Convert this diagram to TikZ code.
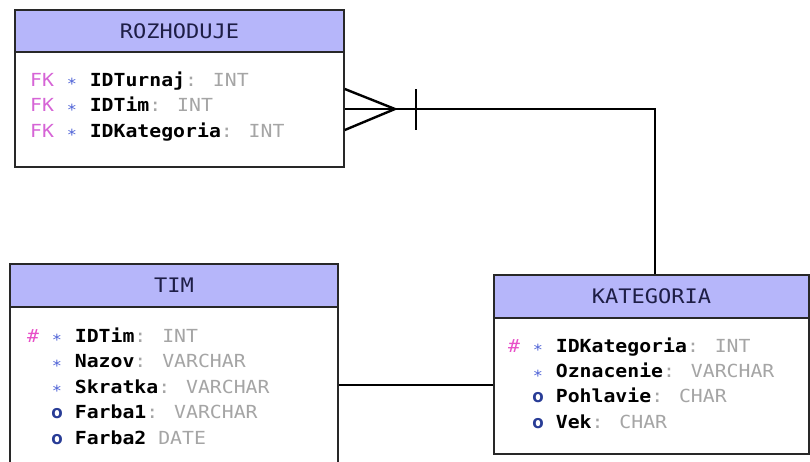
\documentclass[tikz,border=0pt]{standalone}
\usepackage{fontspec}
\newfontfamily\ermono[FakeStretch=1.1]{DejaVu Sans Mono}

\definecolor{hdrfill}{RGB}{182,182,250}
\definecolor{ttlc}{RGB}{30,30,70}
\definecolor{fkc}{RGB}{214,100,214}
\definecolor{pkc}{RGB}{232,80,200}
\definecolor{reqc}{RGB}{80,100,215}
\definecolor{optc}{RGB}{40,60,150}
\definecolor{typc}{RGB}{165,165,165}
\definecolor{edgec}{RGB}{40,40,40}

% attribute markers
\newcommand\erFK{\textcolor{fkc}{FK}}
\newcommand\erPK{\textcolor{pkc}{\#}}
\newcommand\erNoPK{\phantom{\#}}
\newcommand\erReq{\makebox[\fontcharwd\font`\*][c]{\textcolor{reqc}{\raisebox{-0.4ex}{\scalebox{0.85}{*}}}}}
\newcommand\erOpt{\textcolor{optc}{\textbf{o}}}
\newcommand\erAttr[2]{\textbf{#1}\textcolor{typc}{: #2}}

\tikzset{
  entity/.style={draw=edgec, line width=1.8pt, fill=white, anchor=north west, inner sep=0pt},
  entityhead/.style={draw=edgec, line width=1.8pt, fill=hdrfill, anchor=north west, inner sep=0pt},
  title/.style={inner sep=0pt, text=ttlc, font=\fontsize{20}{24}\selectfont\ermono},
  field/.style={inner sep=0pt, anchor=base west, font=\fontsize{18}{22}\selectfont\ermono},
  rel/.style={line width=2.4pt, draw=black},
}

\begin{document}
\begin{tikzpicture}[x=1pt, y=-1pt]
\clip (0,0) rectangle (810,461);
\fill[white] (0,0) rectangle (810,461);

% ROZHODUJE
\node[entity, minimum width=329pt, minimum height=157pt] (rozh) at (14,9) {};
\node[entityhead, minimum width=329pt, minimum height=42pt] (rozhH) at (14,9) {};
\node[title] (rozhT) at (rozhH.center) {ROZHODUJE};
\node[field] (rozh1) at (30,86)  {\erFK\ \erReq\ \erAttr{IDTurnaj}{INT}};
\node[field] (rozh2) at (30,111.5) {\erFK\ \erReq\ \erAttr{IDTim}{INT}};
\node[field] (rozh3) at (30,137) {\erFK\ \erReq\ \erAttr{IDKategoria}{INT}};

% TIM
\node[entity, minimum width=328pt, minimum height=220pt] (tim) at (9,263) {};
\node[entityhead, minimum width=328pt, minimum height=43pt] (timH) at (9,263) {};
\node[title] (timT) at (timH.center) {TIM};
\node[field] (tim1) at (27,342)   {\erPK\ \erReq\ \erAttr{IDTim}{INT}};
\node[field] (tim2) at (27,367.5) {\erNoPK\ \erReq\ \erAttr{Nazov}{VARCHAR}};
\node[field] (tim3) at (27,393)   {\erNoPK\ \erReq\ \erAttr{Skratka}{VARCHAR}};
\node[field] (tim4) at (27,418.5) {\erNoPK\ \erOpt\ \erAttr{Farba1}{VARCHAR}};
\node[field] (tim5) at (27,444)   {\erNoPK\ \erOpt\ \textbf{Farba2}\textcolor{typc}{\ DATE}};

% KATEGORIA
\node[entity, minimum width=315pt, minimum height=179pt] (kat) at (493,274) {};
\node[entityhead, minimum width=315pt, minimum height=43pt] (katH) at (493,274) {};
\node[title] (katT) at (katH.center) {KATEGORIA};
\node[field] (kat1) at (508,352)   {\erPK\ \erReq\ \erAttr{IDKategoria}{INT}};
\node[field] (kat2) at (508,377.3) {\erNoPK\ \erReq\ \erAttr{Oznacenie}{VARCHAR}};
\node[field] (kat3) at (508,402.6) {\erNoPK\ \erOpt\ \erAttr{Pohlavie}{CHAR}};
\node[field] (kat4) at (508,428)   {\erNoPK\ \erOpt\ \erAttr{Vek}{CHAR}};

% ROZHODUJE (many) -- KATEGORIA (one)
\coordinate (cfMid) at (rozh.east |- 0,109);
\coordinate (cfTop) at (rozh.east |- 0,89);
\coordinate (cfBot) at (rozh.east |- 0,130);
\coordinate (cfTip) at (395,109);
\coordinate (oneBarT) at (416,89);
\coordinate (oneBarB) at (416,130);
\coordinate (bend) at (655,109);
\draw[rel] (cfTop) -- (cfTip) -- (cfBot);
\draw[rel] (oneBarT) -- (oneBarB);
\draw[rel] (cfMid) -- (bend) -- (bend |- kat.north);

% TIM -- KATEGORIA
\coordinate (timLink) at (tim.east |- 0,385);
\draw[rel] (timLink) -- (timLink -| kat.west);
\end{tikzpicture}
\end{document}
